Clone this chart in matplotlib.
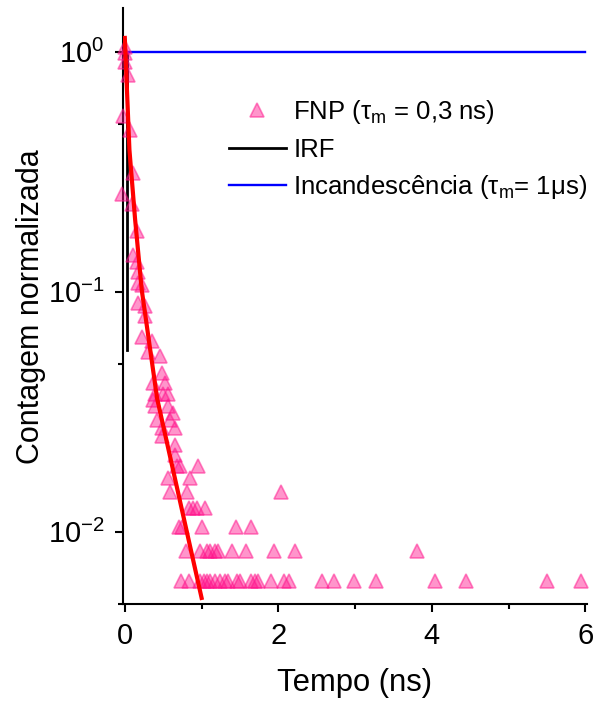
import matplotlib
matplotlib.use("Agg")
import matplotlib.pyplot as plt
import numpy as np

plt.rcParams["font.family"] = ["Liberation Sans", "DejaVu Sans"]
plt.rcParams["mathtext.fontset"] = "custom"
plt.rcParams["mathtext.rm"] = "Liberation Sans"
plt.rcParams["mathtext.it"] = "Liberation Sans:italic"

# FNP decay, photon counts normalised by the peak
PEAK = 480.0
fnp_x = [0.004, 0.004, 0.004, 0.047, -0.018, 0.069, 0.112, -0.039, 0.091, 0.156,
         0.112, 0.156, 0.177, 0.177, 0.221, 0.177, 0.264, 0.264, 0.221, 0.352,
         0.307, 0.460, 0.482, 0.372, 0.525, 0.395, 0.50, 0.56, 0.372, 0.568,
         0.395, 0.633, 0.417, 0.59, 0.655, 0.482, 0.482, 0.655, 0.655, 0.72,
         0.68, 0.958, 0.568, 0.85, 0.59, 0.807, 2.04,
         0.83, 0.89, 0.94, 1.05,
         0.70, 0.74, 1.00, 1.45, 1.64,
         0.80, 0.98, 1.07, 1.11, 1.18, 1.22, 1.39, 1.58, 1.94, 2.22, 3.81,
         0.73, 0.84, 0.98, 1.03, 1.07, 1.11, 1.18, 1.24, 1.30, 1.35, 1.46, 1.50,
         1.64, 1.70, 1.73, 1.91, 2.07, 2.14, 2.57, 2.73, 2.99, 3.27, 4.04, 4.45,
         5.50, 5.94]
fnp_counts = [504, 473, 436, 384, 258, 227, 150, 122, 111, 86,
              68, 64, 58, 52, 51, 43, 42, 38, 31, 30,
              27, 26, 22, 20, 20, 18, 18, 18, 17, 16,
              16, 15, 14, 14, 13, 13, 12, 11, 10, 9,
              9, 9, 8, 8, 7, 7, 7,
              6, 6, 6, 6,
              5, 5, 5, 5, 5,
              4, 4, 4, 4, 4, 4, 4, 4, 4, 4, 4,
              3, 3, 3, 3, 3, 3, 3, 3, 3, 3, 3, 3,
              3, 3, 3, 3, 3, 3, 3, 3, 3, 3, 3, 3,
              3, 3]

# fitted decay (red)
fit_x = [0.0, 0.06, 0.134, 0.22, 0.42, 0.74, 1.0]
fit_y = [1.14, 0.39, 0.20, 0.102, 0.036, 0.0125, 0.0053]

# instrument response
irf_x = [0.03, 0.03]
irf_y = [1.0, 0.057]

# incandescence
inc_x = [0.0, 6.0]
inc_y = [1.0, 1.0]

fnp_y = np.array(fnp_counts) / PEAK

fig = plt.figure(figsize=(5.95, 7.08), dpi=100)
ax = fig.add_axes([0.2059, 0.1469, 0.7807, 0.8413])

ax.plot(irf_x, irf_y, color="black", lw=2.0, zorder=2, label="IRF")
ax.plot(inc_x, inc_y, color="#0000FF", lw=1.7, zorder=2,
        label="Incandescência (τ$_\\mathrm{m}$= 1μs)")
ax.plot(fnp_x, fnp_y, ls="none", marker="^", ms=10,
        mfc=(1.0, 0.08, 0.55, 0.45), mec=(1.0, 0.08, 0.55, 0.5), mew=1.2,
        zorder=3, clip_on=False, label="FNP (τ$_\\mathrm{m}$ = 0,3 ns)")
ax.plot(fit_x, fit_y, color="red", lw=3.0, zorder=4)

ax.set_yscale("log")
ax.set_xlim(-0.03, 6.02)
ax.set_ylim(0.005085, 1.514)

ax.set_xticks([0, 2, 4, 6])
ax.set_xticks([1, 3, 5], minor=True)
ax.set_yticks([0.01, 0.1, 1.0])
ax.set_yticks([0.005, 0.05, 0.5], minor=True)
ax.yaxis.set_minor_formatter(matplotlib.ticker.NullFormatter())

for s in ["top", "right"]:
    ax.spines[s].set_visible(False)
for s in ["left", "bottom"]:
    ax.spines[s].set_linewidth(1.5)

ax.tick_params(which="major", direction="out", length=6, width=1.5,
               labelsize=21, pad=7)
ax.tick_params(which="minor", direction="out", length=3.5, width=1.5)

ax.set_xlabel("Tempo (ns)", fontsize=22.3)
ax.set_ylabel("Contagem normalizada", fontsize=22)
ax.xaxis.set_label_coords(0.5, -0.107)
ax.yaxis.set_label_coords(-0.165, 0.5)

h, l = ax.get_legend_handles_labels()
order = [2, 0, 1]
ax.legend([h[i] for i in order], [l[i] for i in order],
          loc="upper left", bbox_to_anchor=(0.2293, 0.849),
          frameon=False, fontsize=18.5, numpoints=1, handlelength=2.2,
          handletextpad=0.3, labelspacing=0.45, borderpad=0, borderaxespad=0)

fig.savefig("out.png", dpi=100)
